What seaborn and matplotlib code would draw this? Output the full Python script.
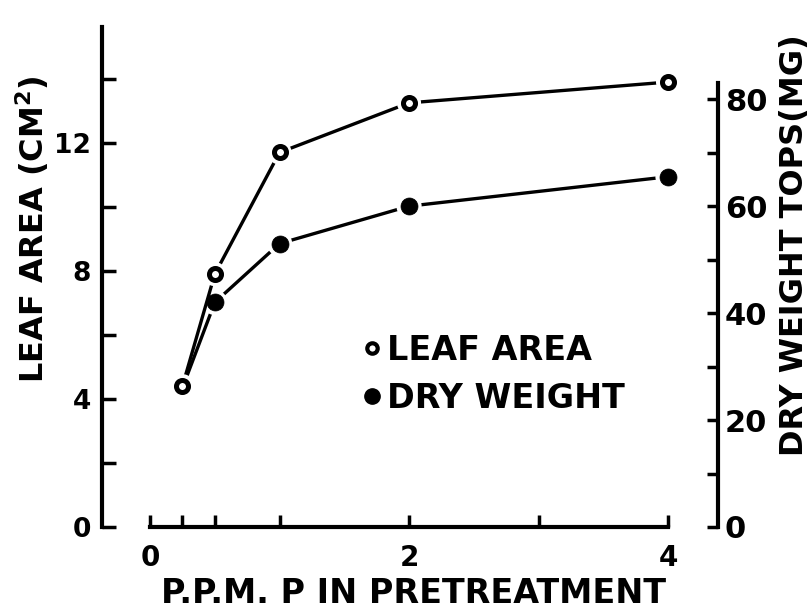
import numpy as np
import pandas as pd
import matplotlib
matplotlib.use("Agg")
import matplotlib.pyplot as plt
import seaborn as sns
from matplotlib.lines import Line2D

# ---- data ----
ppm = [0.25, 0.5, 1, 2, 4]
leaf_area = [4.4, 7.9, 11.7, 13.25, 13.9]      # cm^2 (left axis)
dry_weight = [26, 42, 53, 60, 65.5]           # mg (right axis)

x_ticks = [0, 0.25, 0.5, 1, 2, 3, 4]
x_labels = ["0", "", "", "", "2", "", "4"]
left_ticks = [0, 2, 4, 6, 8, 10, 12, 14]
left_labels = ["0", "", "4", "", "8", "", "12", ""]
right_ticks = [0, 10, 20, 30, 40, 50, 60, 70, 80]
right_labels = ["0", "", "20", "", "40", "", "60", "", "80"]

sns.set_theme(style="white", rc={
    "axes.edgecolor": "black", "text.color": "black",
    "xtick.color": "black", "ytick.color": "black",
    "axes.labelcolor": "black",
})
plt.rcParams["font.family"] = ["DejaVu Sans"]
plt.rcParams["font.weight"] = "bold"
plt.rcParams["axes.labelweight"] = "bold"
plt.rcParams["mathtext.fontset"] = "dejavusans"
plt.rcParams["mathtext.default"] = "bf"

df = pd.DataFrame({"ppm": ppm, "leaf": leaf_area, "dry": dry_weight})

fig = plt.figure(figsize=(8.12, 6.1), dpi=100)
ax = fig.add_axes([102 / 812, 83 / 610, 616 / 812, 500 / 610])
ax2 = ax.twinx()

# dry weight series (right axis)
sns.lineplot(data=df, x="ppm", y="dry", ax=ax2, color="black", lw=2.4,
             estimator=None, sort=False, zorder=2)
sns.scatterplot(data=df.iloc[1:], x="ppm", y="dry", ax=ax2, s=330,
                color="white", edgecolor="none", zorder=3, legend=False)
sns.scatterplot(data=df.iloc[1:], x="ppm", y="dry", ax=ax2, s=150,
                color="black", edgecolor="black", linewidth=0.5, zorder=4,
                legend=False)

# leaf area series (left axis)
sns.lineplot(data=df, x="ppm", y="leaf", ax=ax, color="black", lw=2.4,
             estimator=None, sort=False, zorder=2)
sns.scatterplot(data=df, x="ppm", y="leaf", ax=ax, s=300,
                color="white", edgecolor="none", zorder=3, legend=False)
sns.scatterplot(data=df, x="ppm", y="leaf", ax=ax, s=75,
                facecolor="white", edgecolor="black", linewidth=3.6,
                zorder=4, legend=False)

ax.set_zorder(ax2.get_zorder() + 1)
ax.patch.set_visible(False)

ax.set_xlim(-0.371, 4.386)
ax.set_ylim(0, 15.62)
ax2.set_ylim(0, 93.5)

for s in ["top", "right"]:
    ax.spines[s].set_visible(False)
for s in ["top", "left", "bottom"]:
    ax2.spines[s].set_visible(False)
ax.spines["left"].set_linewidth(3)
ax.spines["bottom"].set_linewidth(3)
ax2.spines["right"].set_linewidth(3)
ax.spines["bottom"].set_bounds(0, 4)
ax2.spines["right"].set_bounds(0, 83)

ax.set_xticks(x_ticks, x_labels)
ax.set_yticks(left_ticks, left_labels)
ax2.set_yticks(right_ticks, right_labels)
ax.tick_params(axis="x", bottom=True, top=False, direction="in", length=9,
               width=2.5, pad=12, labelsize=20)
ax.tick_params(axis="y", left=True, right=False, direction="in", length=10,
               width=2.5, pad=8, labelsize=19)
ax2.tick_params(axis="y", right=True, left=False, direction="in", length=8,
                width=2.5, pad=5, labelsize=22)

ax.set_xlabel("P.P.M. P IN PRETREATMENT", fontsize=24)
ax.xaxis.set_label_coords(0.506, -0.1)
ax.set_ylabel(r"LEAF AREA (CM$^{2}$)", fontsize=23, va="center")
ax.yaxis.set_label_coords(-0.113, 0.595)
ax2.set_ylabel("DRY WEIGHT TOPS(MG)", fontsize=23, va="center", rotation=90)
ax2.yaxis.set_label_coords(1.124, 0.564)

handles = [
    Line2D([], [], marker="o", ls="none", markersize=7.5,
           markerfacecolor="white", markeredgecolor="black",
           markeredgewidth=3),
    Line2D([], [], marker="o", ls="none", markersize=11,
           color="black"),
]
ax.legend(handles, ["LEAF AREA", "DRY WEIGHT"], loc="center left",
          bbox_to_anchor=((362 - 102) / 616, (527 - 374) / 500),
          frameon=False, fontsize=24, handletextpad=0.15, handlelength=0.6,
          labelspacing=0.45, borderpad=0, borderaxespad=0)

fig.savefig("out.png", dpi=100, facecolor="white")
